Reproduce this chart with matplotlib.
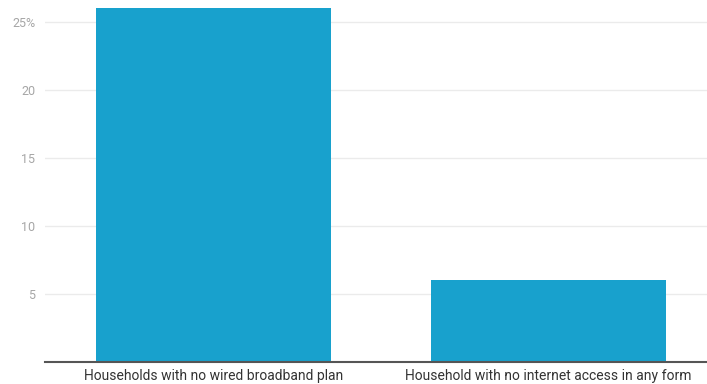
import matplotlib
matplotlib.use("Agg")
import matplotlib.pyplot as plt

categories = ["Households with no wired broadband plan", "Household with no internet access in any form"]
values = [26, 6]
yticks = [5, 10, 15, 20, 25]
ytick_labels = ["5", "10", "15", "20", "25%"]

plt.rcParams['font.family'] = ['Roboto', 'DejaVu Sans']
fig = plt.figure(figsize=(7.07, 3.84), dpi=100)
ax = fig.add_axes([45/707, 22/384, 662/707, 362/384])
ax.bar(range(len(categories)), values, width=0.70, color="#18a1cd", zorder=2)
ax.set_xlim(-0.503, 1.473)
ax.set_ylim(0, 362/13.6)
ax.set_yticks(yticks)
ax.set_yticklabels(ytick_labels)
ax.set_xticks(range(len(categories)))
ax.set_xticklabels(categories)
ax.grid(axis='y', color="#ebebeb", linewidth=1, zorder=0)
for s in ['top', 'right', 'left']:
    ax.spines[s].set_visible(False)
ax.spines['bottom'].set_color("#555555")
ax.spines['bottom'].set_linewidth(1.5)
ax.spines['bottom'].set_zorder(3)
ax.tick_params(axis='y', length=0, pad=7, labelsize=9, labelcolor="#a6a6a6")
ax.tick_params(axis='x', length=0, pad=5, labelsize=10, labelcolor="#333333")
fig.savefig("out.png", dpi=100)
